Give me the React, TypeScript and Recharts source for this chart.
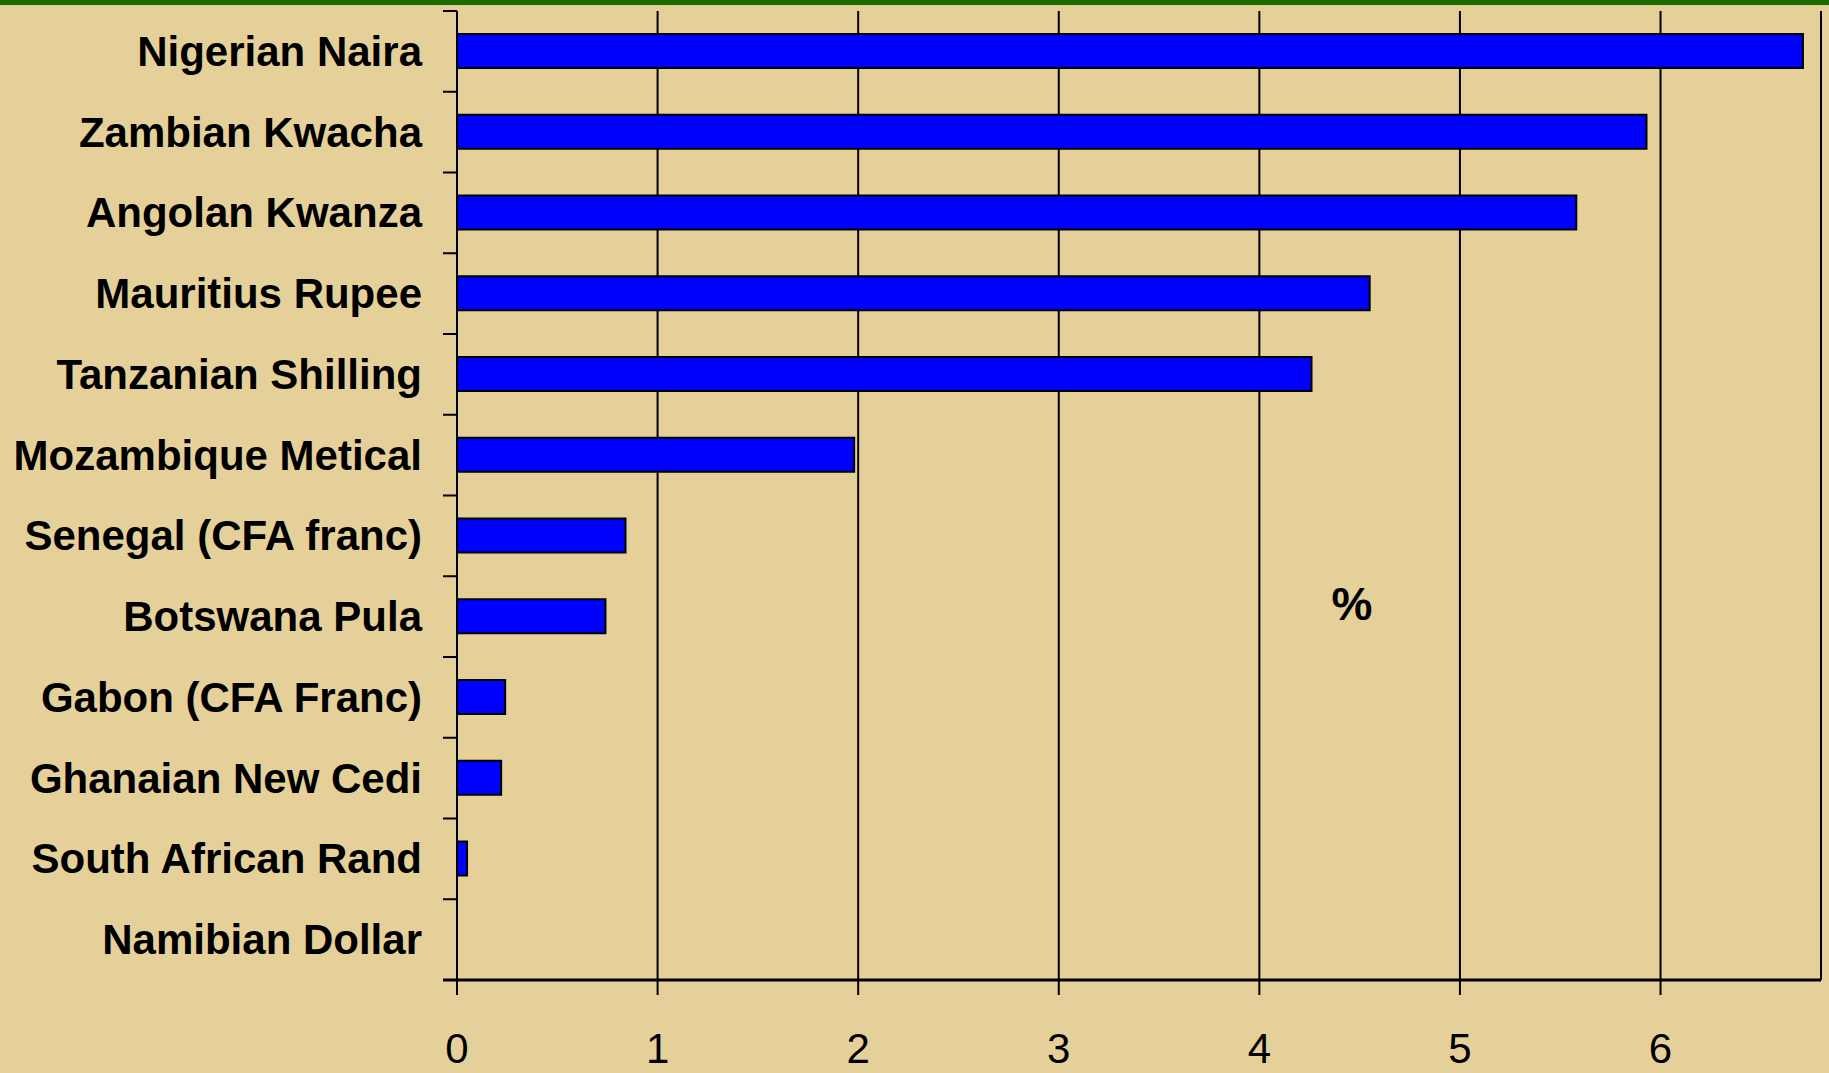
import React from 'react';
import { BarChart, Bar, XAxis, YAxis, CartesianGrid } from 'recharts';

// Currency depreciation, %
const currencies = [
    'Nigerian Naira',
    'Zambian Kwacha',
    'Angolan Kwanza',
    'Mauritius Rupee',
    'Tanzanian Shilling',
    'Mozambique Metical',
    'Senegal (CFA franc)',
    'Botswana Pula',
    'Gabon (CFA Franc)',
    'Ghanaian New Cedi',
    'South African Rand',
    'Namibian Dollar',
];
const values = [6.71, 5.93, 5.58, 4.55, 4.26, 1.98, 0.84, 0.74, 0.24, 0.22, 0.05, 0];
const xTicks = [0, 1, 2, 3, 4, 5, 6];
const xDomain = [0, 6.8];
const unitLabel = '%';

const data = currencies.map((name, i) => ({ name, value: values[i] }));

const W = 1829;
const H = 1073;
const MARGIN = { top: 11, right: 8, left: 0, bottom: 0 };
const Y_AXIS_W = 457;
const X_AXIS_H = 93;
const BAND = (H - MARGIN.top - X_AXIS_H) / currencies.length;

const BG = '#E6D09A';
const FONT = "'Liberation Sans', Arial, sans-serif";

// category label plus a boundary tick above it (and below for the last one)
const CategoryTick = (props: any) => {
    const { x, y, payload, index } = props;
    const lineX1 = x + 21;
    const lineX2 = x + 35;
    return (
        <g>
            <text
                x={x}
                y={y}
                textAnchor="end"
                dominantBaseline="central"
                fontFamily={FONT}
                fontWeight="bold"
                fontSize={42}
                fill="#000"
            >
                {payload.value}
            </text>
            <line x1={lineX1} x2={lineX2} y1={y - BAND / 2} y2={y - BAND / 2} stroke="#000" strokeWidth={2} />
            {index === currencies.length - 1 && (
                <line x1={lineX1} x2={lineX2} y1={y + BAND / 2} y2={y + BAND / 2} stroke="#000" strokeWidth={3} />
            )}
        </g>
    );
};

export default function App() {
    return (
        <div style={{ position: 'relative', width: W, height: H, background: BG, overflow: 'hidden' }}>
            <style>{'body{margin:0;}'}</style>
            <div style={{ position: 'absolute', left: 0, top: 0, width: W, height: 5, background: '#1B6B00' }} />
            <BarChart width={W} height={H} data={data} layout="vertical" margin={MARGIN} barSize={34}>
                <CartesianGrid horizontal={false} stroke="#000" strokeWidth={2} />
                <XAxis
                    type="number"
                    domain={xDomain}
                    ticks={xTicks}
                    allowDataOverflow
                    height={X_AXIS_H}
                    axisLine={{ stroke: '#000', strokeWidth: 3 }}
                    tickLine={{ stroke: '#000', strokeWidth: 2 }}
                    tickSize={15}
                    tickMargin={38}
                    tick={{ fill: '#000', fontSize: 42, fontFamily: FONT }}
                />
                <YAxis
                    type="category"
                    dataKey="name"
                    width={Y_AXIS_W}
                    axisLine={{ stroke: '#000', strokeWidth: 2 }}
                    tickLine={false}
                    tickSize={14}
                    tickMargin={21}
                    interval={0}
                    tick={<CategoryTick />}
                />
                <Bar dataKey="value" fill="#0000FF" stroke="#000" strokeWidth={2} isAnimationActive={false} />
            </BarChart>
            <div
                style={{
                    position: 'absolute',
                    left: 1352,
                    top: 604,
                    transform: 'translate(-50%, -50%)',
                    fontFamily: FONT,
                    fontWeight: 'bold',
                    fontSize: 46,
                    color: '#000',
                    lineHeight: 1,
                }}
            >
                {unitLabel}
            </div>
        </div>
    );
}
